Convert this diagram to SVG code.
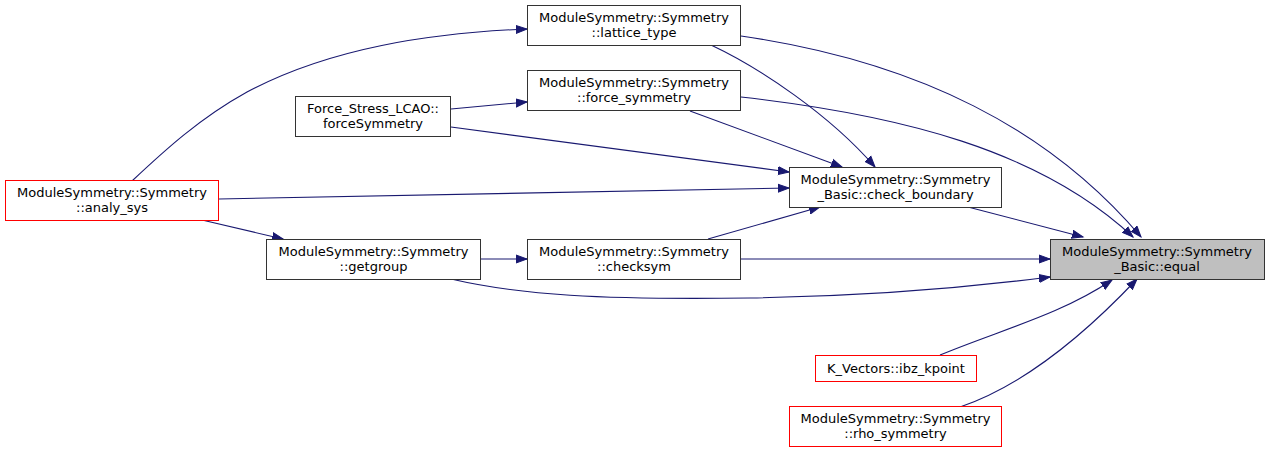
<svg xmlns="http://www.w3.org/2000/svg" width="1269" height="453" viewBox="0 0 1269 453">
<style>
.n{fill:#fff;stroke:#333;stroke-width:1}
.r{fill:#fff;stroke:#f00;stroke-width:1}
.g{fill:#bfbfbf;stroke:#333;stroke-width:1}
text{font-family:"DejaVu Sans",sans-serif;font-size:13px;fill:#000;text-anchor:middle}
.e path{fill:none;stroke:#191970;stroke-width:1.1;marker-end:url(#a)}
</style>
<defs>
<marker id="a" markerUnits="userSpaceOnUse" markerWidth="14" markerHeight="12" viewBox="0 -6 14 12" refX="11" refY="0" orient="auto">
<path d="M0,-4 L11,0 L0,4 z" fill="#191970" stroke="#191970" stroke-width="1"/>
</marker>
</defs>
<rect width="1269" height="453" fill="#fff"/>
<g class="e" id="edges">
<path d="M132,181 C165,150 200,118 247,92 C330,48 430,33 527,29"/>
<path d="M451,109 L527,102"/>
<path d="M202,220 L283,239"/>
<path d="M481,259 L527,259"/>
<path d="M711,45 C760,68 830,115 875,167"/>
<path d="M690,111 L842,167"/>
<path d="M451,127 L789,172"/>
<path d="M219,199 L789,188"/>
<path d="M708,239 L820,207"/>
<path d="M968,207 L1083,237"/>
<path d="M741,36 C920,62 1050,130 1141,237"/>
<path d="M741,97 C900,115 1040,150 1133,237"/>
<path d="M741,259 L1050,259"/>
<path d="M451,279 C520,295 600,300 750,298 C880,296 980,286 1050,277"/>
<path d="M940,355 C1000,330 1060,315 1112,280"/>
<path d="M960,407 C1010,390 1070,350 1137,279"/>
</g>
<g id="equal"><rect class="g" x="1050.5" y="239.5" width="214" height="40"/><text x="1157" y="256">ModuleSymmetry::Symmetry</text><text x="1157" y="270.5">_Basic::equal</text></g>
<g id="check_boundary"><rect class="n" x="789.5" y="167.5" width="212" height="40"/><text x="895.5" y="184">ModuleSymmetry::Symmetry</text><text x="895.5" y="198.5">_Basic::check_boundary</text></g>
<g id="lattice_type"><rect class="n" x="527.5" y="5.5" width="213" height="40"/><text x="634" y="22">ModuleSymmetry::Symmetry</text><text x="634" y="36.5">::lattice_type</text></g>
<g id="force_symmetry"><rect class="n" x="527.5" y="70.5" width="213" height="40"/><text x="634" y="87">ModuleSymmetry::Symmetry</text><text x="634" y="101.5">::force_symmetry</text></g>
<g id="forceSymmetry"><rect class="n" x="295.5" y="96.5" width="155" height="40"/><text x="373" y="113">Force_Stress_LCAO::</text><text x="373" y="127.5">forceSymmetry</text></g>
<g id="analy_sys"><rect class="r" x="5.5" y="180.5" width="213" height="40"/><text x="112" y="197">ModuleSymmetry::Symmetry</text><text x="112" y="211.5">::analy_sys</text></g>
<g id="getgroup"><rect class="n" x="266.5" y="239.5" width="214" height="40"/><text x="373.5" y="256">ModuleSymmetry::Symmetry</text><text x="373.5" y="270.5">::getgroup</text></g>
<g id="checksym"><rect class="n" x="527.5" y="239.5" width="213" height="40"/><text x="634" y="256">ModuleSymmetry::Symmetry</text><text x="634" y="270.5">::checksym</text></g>
<g id="ibz_kpoint"><rect class="r" x="815.5" y="355.5" width="161" height="26"/><text x="896" y="373">K_Vectors::ibz_kpoint</text></g>
<g id="rho_symmetry"><rect class="r" x="789.5" y="406.5" width="212" height="40"/><text x="895.5" y="423">ModuleSymmetry::Symmetry</text><text x="895.5" y="437.5">::rho_symmetry</text></g>
</svg>
